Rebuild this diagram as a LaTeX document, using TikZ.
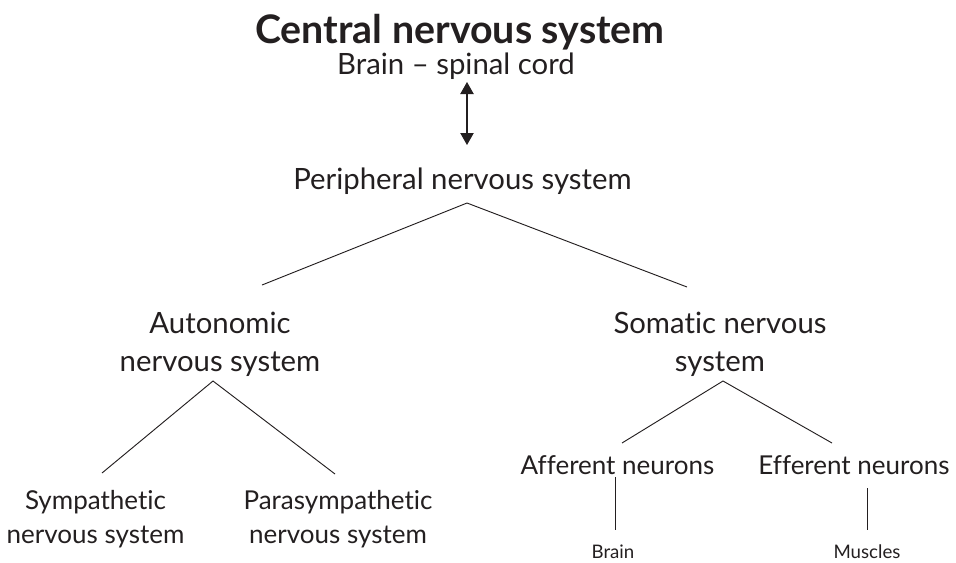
\documentclass[tikz,border=0pt]{standalone}
\usepackage{fontspec}
\setmainfont{Lato}[Ligatures=NoCommon]
\usetikzlibrary{arrows.meta}
\definecolor{ink}{HTML}{231F20}
\tikzset{
  lbl/.style={anchor=base, inner sep=0pt, align=center, text=ink,
    font=\fontsize{22}{28.5}\selectfont},
  sublbl/.style={anchor=base, inner sep=0pt, align=center, text=ink,
    font=\fontsize{19.5}{25.3}\selectfont},
  title/.style={anchor=base, inner sep=0pt, text=ink,
    font=\fontsize{29.5}{34}\selectfont\bfseries},
  small/.style={anchor=base, inner sep=0pt, text=ink,
    font=\fontsize{14}{17}\selectfont},
  branch/.style={draw=ink, line width=0.7pt},
  dbl/.style={draw=ink, line width=0.8pt,
    {Triangle[length=9pt,width=10pt]}-{Triangle[length=9pt,width=10pt]}}
}
\begin{document}
\begin{tikzpicture}[x=0.75pt,y=-0.75pt]
\useasboundingbox (0,0) rectangle (956,562);

% labels (base anchor = baseline of the last line)
\node[title]  (cns) at (460,43)    {Central nervous system};
\node[lbl]    (bsc) at (456,74)    {Brain – spinal cord};
\node[lbl]    (pns) at (462.5,189) {Peripheral nervous system};
\node[lbl]    (ans) at (220,371)   {Autonomic\\nervous system};
\node[lbl]    (sns) at (720,371)   {Somatic nervous\\system};
\node[sublbl] (sym) at (95.5,543)  {Sympathetic\\nervous system};
\node[sublbl] (par) at (338,543)   {Parasympathetic\\nervous system};
\node[sublbl] (aff) at (617.5,474) {Afferent neurons};
\node[sublbl] (eff) at (854,474)   {Efferent neurons};
\node[small]  (br)  at (613,558)   {Brain};
\node[small]  (mu)  at (867,558)   {Muscles};

% connector end points
\coordinate (arT)  at (467,82);
\coordinate (arB)  at (467,145);
\coordinate (pnsB) at (467,203);
\coordinate (ansT) at (262,285);
\coordinate (snsT) at (687,287);
\coordinate (ansB) at (213,381);
\coordinate (symT) at (102,473);
\coordinate (parT) at (335,474);
\coordinate (snsB) at (723,381);
\coordinate (affT) at (622,443);
\coordinate (effT) at (832,443);
\coordinate (affB) at (615,477);
\coordinate (brT)  at (615,530);
\coordinate (effB) at (867,488);
\coordinate (muT)  at (867,530);

% connectors
\draw[dbl] (arT) -- (arB);
\draw[branch] (ansT) -- (pnsB) -- (snsT);
\draw[branch] (symT) -- (ansB) -- (parT);
\draw[branch] (affT) -- (snsB) -- (effT);
\draw[branch] (affB) -- (brT);
\draw[branch] (effB) -- (muT);
\end{tikzpicture}
\end{document}
